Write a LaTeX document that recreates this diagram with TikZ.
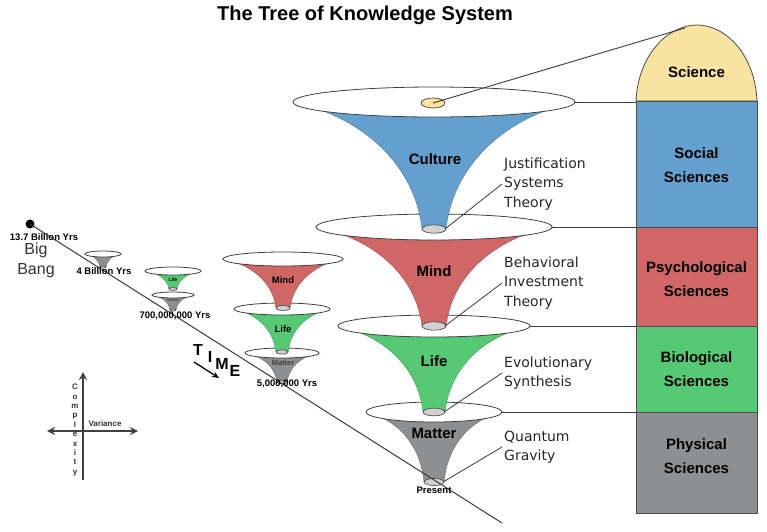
\documentclass[tikz,border=0pt]{standalone}
\usepackage{fontspec}
\setmainfont{Liberation Sans}
\newfontfamily\sidefont{DejaVu Sans}
\usetikzlibrary{arrows.meta}
\definecolor{cblue}{HTML}{64A0CD}
\definecolor{cred}{HTML}{D06666}
\definecolor{cgreen}{HTML}{55C974}
\definecolor{cgray}{HTML}{8E8F91}
\definecolor{cyel}{HTML}{F9E3A1}
\definecolor{cline}{HTML}{3A3A3A}
\newcommand\tkfunnel[8]{%
  \fill[#8, draw=#8!75!black, line width=0.4pt] ({#2-#4},#3) .. controls ({#2-0.5*#4},{#3+0.12*(#6-#3)}) and ({#2-#7-0.05*#4},{#6-0.5*(#6-#3)}) .. ({#2-#7},#6) -- ({#2+#7},#6) .. controls ({#2+#7+0.05*#4},{#6-0.5*(#6-#3)}) and ({#2+0.5*#4},{#3+0.12*(#6-#3)}) .. ({#2+#4},#3) -- cycle;
  \draw[fill=black!18, draw=black!75, line width=0.6pt] (#2,#6) ellipse [x radius=#7, y radius={0.35*#7}];
  \draw[fill=white, draw=black!75, line width=0.8pt] (#2,#3) ellipse [x radius=#4, y radius=#5];
  \coordinate (#1-top) at (#2,#3);
  \coordinate (#1-east) at ({#2+#4},#3);
  \coordinate (#1-bote) at ({#2+#7-1},#6);
}
\begin{document}
\begin{tikzpicture}[x=1pt,y=-1pt,
  lbl/.style={font=\fontsize{15}{18}\selectfont\bfseries, inner sep=0pt},
  side/.style={font=\sidefont\fontsize{14}{19.5}\selectfont, text=black!85, align=left, anchor=west, inner sep=0pt},
  small/.style={font=\fontsize{9.5}{11}\selectfont\bfseries, inner sep=0pt},
  colbox/.style={draw=black!70, line width=0.8pt, minimum width=121pt, inner sep=0pt},
  coltext/.style={font=\fontsize{15}{24}\selectfont\bfseries, align=center, inner sep=0pt},
  conn/.style={draw=cline, line width=0.9pt}]
\useasboundingbox (0,0) rectangle (767,531);

% title
\node[font=\fontsize{20}{24}\selectfont\bfseries] (title) at (365,15) {The Tree of Knowledge System};

% main funnels (bottom first)
\tkfunnel{matter}{434}{412}{68}{10}{482}{10}{cgray}
\tkfunnel{life}{434}{326}{96}{11}{412}{11}{cgreen}
\tkfunnel{mind}{434}{227}{118}{13}{326}{12}{cred}
\tkfunnel{culture}{434}{102}{141}{15}{229}{12}{cblue}
\draw[fill=cyel, draw=black!75, line width=0.7pt] (433,103) ellipse [x radius=12, y radius=5];
\coordinate (yel) at (433,103);

\node[lbl] (lculture) at (435,159) {Culture};
\node[lbl] (lmind) at (434,271) {Mind};
\node[lbl] (llife) at (434,361) {Life};
\node[lbl] (lmatter) at (434,433) {Matter};

% small funnels
\tkfunnel{bA}{103}{254}{18}{3}{267}{3}{cgray}
\tkfunnel{cA}{173}{295}{21}{3}{310}{3}{cgray}
\tkfunnel{cB}{173}{271}{28}{4}{289}{4}{cgreen}
\tkfunnel{dA}{282}{353}{37}{5}{382}{5}{cgray}
\tkfunnel{dB}{282}{309}{48}{6}{352}{6}{cgreen}
\tkfunnel{dC}{283}{259}{60}{7}{308}{7}{cred}
\node[font=\fontsize{5}{6}\selectfont\bfseries] (cBl) at (173,280) {Life};
\node[font=\fontsize{4}{5}\selectfont\bfseries, text=black!70] (cAl) at (173,300) {Matter};
\node[font=\fontsize{9.5}{11}\selectfont\bfseries] (dCl) at (283,280) {Mind};
\node[font=\fontsize{9.5}{11}\selectfont\bfseries] (dBl) at (283,329) {Life};
\node[font=\fontsize{7.5}{9}\selectfont\bfseries, text=black!75] (dAl) at (283,363) {Matter};

% right column
\draw[fill=cyel, draw=black!70, line width=0.8pt] (636,101) .. controls (638,55) and (668,25) .. (697,25) .. controls (726,25) and (755,55) .. (757,101) -- cycle;
\node[coltext] (sci) at (696.5,72) {Science};
\coordinate (dome) at (685,28);
\node[colbox, fill=cblue, minimum height=126pt] (social) at (696.5,164) {};
\node[colbox, fill=cred, minimum height=99pt] (psych) at (696.5,276.5) {};
\node[colbox, fill=cgreen, minimum height=86pt] (bio) at (696.5,369) {};
\node[colbox, fill=cgray, minimum height=101pt] (phys) at (696.5,462.5) {};
\node[coltext] (socialT) at (696.5,165) {Social\\Sciences};
\node[coltext] (psychT) at (696.5,279) {Psychological\\Sciences};
\node[coltext] (bioT) at (696.5,369) {Biological\\Sciences};
\node[coltext] (physT) at (696.5,456.5) {Physical\\Sciences};

% connectors to column
\draw[conn] (yel) -- (dome);
\draw[conn] (culture-east) -- (culture-east -| social.west);
\draw[conn] (mind-east) -- (mind-east -| psych.west);
\draw[conn] (life-east) -- (life-east -| bio.west);
\draw[conn] (matter-east) -- (matter-east -| phys.west);

% side labels
\node[side] (jst) at (504,184) {Justification\\Systems\\Theory};
\node[side] (bit) at (504,283) {Behavioral\\Investment\\Theory};
\node[side] (evo) at (504,373) {Evolutionary\\Synthesis};
\node[side] (qg) at (504,447) {Quantum\\Gravity};
\draw[conn, line width=0.8pt] (culture-bote) -- ([xshift=-2pt]jst.west);
\draw[conn, line width=0.8pt] (mind-bote) -- ([xshift=-2pt]bit.west);
\draw[conn, line width=0.8pt] (life-bote) -- ([xshift=-2pt]evo.west);
\draw[conn, line width=0.8pt] (matter-bote) -- ([xshift=-2pt]qg.west);

% timeline
\node[circle, fill=black, inner sep=0pt, minimum size=9pt] (bigbang) at (30,224) {};
\coordinate (tend) at (502,523);
\draw[conn, line width=1pt] (bigbang.center) -- (tend);

\node[small] (t137) at (44,237) {13.7 Billion Yrs};
\node[font=\fontsize{16}{20}\selectfont, text=black!80, align=center] (bb) at (36,260) {Big\\Bang};
\node[small] (t4b) at (104,271) {4 Billion Yrs};
\node[small] (t700) at (175,316) {700,000,000 Yrs};
\node[small] (t5m) at (287,384) {5,000,000 Yrs};
\node[small] (tpres) at (434,490) {Present};

% TIME
\node[font=\fontsize{16}{18}\selectfont\bfseries] (tT) at (198,350) {T};
\node[font=\fontsize{16}{18}\selectfont\bfseries] (tI) at (210,357) {I};
\node[font=\fontsize{16}{18}\selectfont\bfseries] (tM) at (222,364) {M};
\node[font=\fontsize{16}{18}\selectfont\bfseries] (tE) at (235,371) {E};
\coordinate (tarA) at (194,362);
\coordinate (tarB) at (219,378);
\draw[line width=1.3pt, -{Stealth[length=7pt,width=6pt]}] (tarA) -- (tarB);

% axes
\coordinate (axtop) at (83,372);
\coordinate (axbot) at (83,480);
\coordinate (axleft) at (47,431);
\coordinate (axright) at (138,431);
\draw[line width=1.4pt, draw=black!75, -{Stealth[length=8pt,width=8pt]}] (axbot) -- (axtop);
\draw[line width=1.4pt, draw=black!75, {Stealth[length=8pt,width=8pt]}-{Stealth[length=8pt,width=8pt]}] (axleft) -- (axright);
\node[font=\fontsize{8}{9.4}\selectfont\bfseries, align=center, inner sep=0pt, text=black!80] (cplx) at (75,430) {C\\o\\m\\p\\l\\e\\x\\i\\t\\y};
\node[font=\fontsize{8}{10}\selectfont\bfseries, inner sep=0pt, text=black!80] (var) at (105,424) {Variance};
\end{tikzpicture}
\end{document}
